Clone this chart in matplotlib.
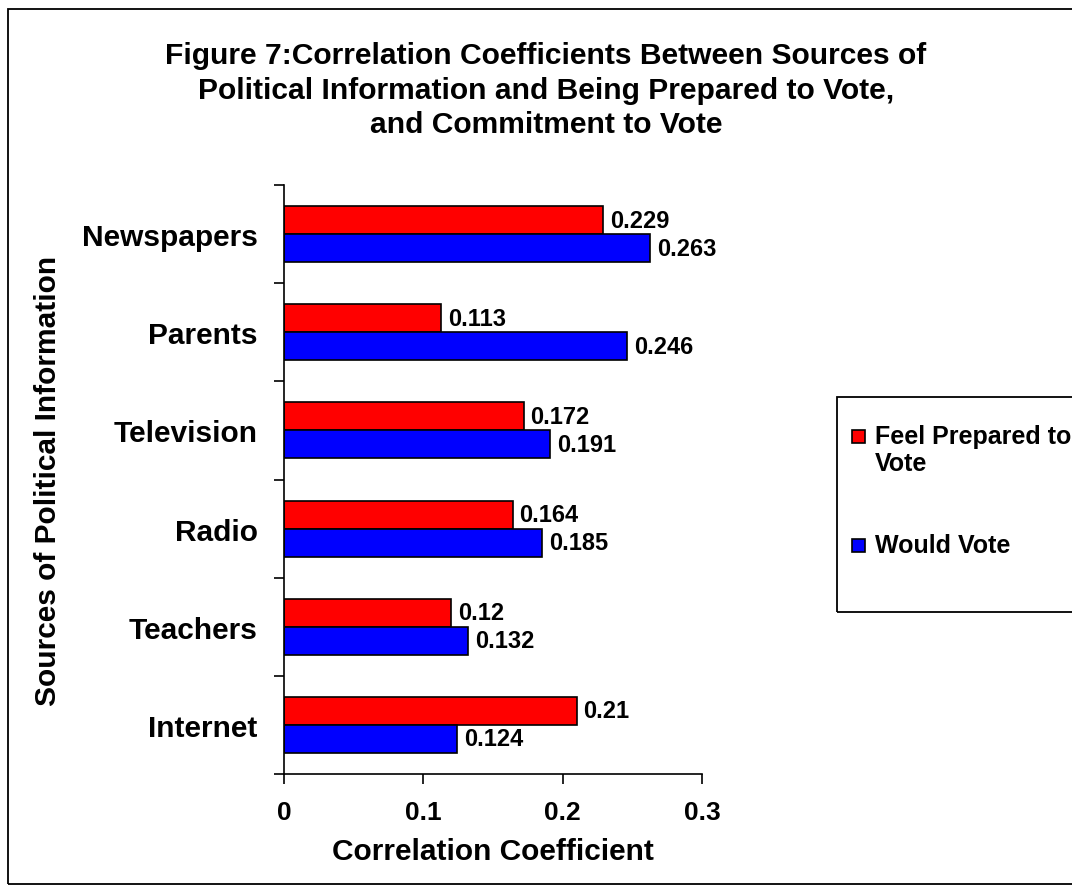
import matplotlib
matplotlib.use("Agg")
import matplotlib.pyplot as plt
from matplotlib.patches import Rectangle

# ---- data -------------------------------------------------------------
sources = ["Newspapers", "Parents", "Television", "Radio", "Teachers", "Internet"]
feel_prepared = [0.229, 0.113, 0.172, 0.164, 0.12, 0.21]
would_vote = [0.263, 0.246, 0.191, 0.185, 0.132, 0.124]
series_names = ["Feel Prepared to\nVote", "Would Vote"]
x_ticks = [0, 0.1, 0.2, 0.3]
x_tick_labels = ["0", "0.1", "0.2", "0.3"]

title = ("Figure 7:Correlation Coefficients Between Sources of\n"
         "Political Information and Being Prepared to Vote,\n"
         "and Commitment to Vote")
x_label = "Correlation Coefficient"
y_label = "Sources of Political Information"

# ---- style ------------------------------------------------------------
RED = "#FF0000"
BLUE = "#0000FF"
plt.rcParams["font.family"] = ["Liberation Sans", "DejaVu Sans"]
plt.rcParams["font.weight"] = "bold"

W, H = 1072, 895
fig = plt.figure(figsize=(W / 100, H / 100), dpi=100)


def fx(px):
    return px / W


def fy(py):
    return 1 - py / H


# plot area
ax_left, ax_right, ax_top, ax_bottom = 284, 702, 186, 775
ax = fig.add_axes([fx(ax_left), fy(ax_bottom),
                   (ax_right - ax_left) / W, (ax_bottom - ax_top) / H])

n = len(sources)
pos = list(range(n))
bar_h = 0.286
bars_red = ax.barh([p - bar_h / 2 for p in pos], feel_prepared, height=bar_h,
                   color=RED, edgecolor="black", linewidth=1.2, zorder=2)
bars_blue = ax.barh([p + bar_h / 2 for p in pos], would_vote, height=bar_h,
                    color=BLUE, edgecolor="black", linewidth=1.2, zorder=2)

for bars, vals in ((bars_red, feel_prepared), (bars_blue, would_vote)):
    ax.bar_label(bars, labels=[f"{v:g}" for v in vals], padding=5,
                 fontsize=17, fontweight="bold", color="black")

ax.set_xlim(0, 0.3)
ax.set_ylim(n - 0.5, -0.5)

# axes spines
for side in ("top", "right"):
    ax.spines[side].set_visible(False)
for side in ("left", "bottom"):
    ax.spines[side].set_linewidth(1.2)
    ax.spines[side].set_color("black")

# y axis: tick marks on category boundaries, labels at centres
ax.set_yticks([p - 0.5 for p in range(n + 1)])
ax.set_yticklabels([])
ax.set_yticks(pos, minor=True)
ax.set_yticklabels(sources, minor=True, fontsize=21.5, fontweight="bold")
ax.tick_params(axis="y", which="major", direction="out", length=7.5, width=1.2)
ax.tick_params(axis="y", which="minor", length=0, pad=19)

ax.set_xticks(x_ticks)
ax.set_xticklabels(x_tick_labels, fontsize=19, fontweight="bold")
ax.tick_params(axis="x", direction="out", length=7, width=1.2, pad=12)

ax.set_xlabel(x_label, fontsize=21.5, fontweight="bold", va="center")
ax.xaxis.set_label_coords(0.5, (ax_bottom - 852) / (ax_bottom - ax_top))
ax.set_ylabel(y_label, fontsize=21.5, fontweight="bold", va="center")
ax.yaxis.set_label_coords((48 - ax_left) / (ax_right - ax_left), 0.5)

# title
fig.text(fx(546), fy(42), title, ha="center", va="top", fontsize=21.6,
         fontweight="bold", linespacing=1.3)

# legend box (runs off the right edge)
fig.add_artist(Rectangle((fx(837), fy(613)), fx(1090) - fx(837), (613 - 398) / H,
                         transform=fig.transFigure, fill=False,
                         edgecolor="black", linewidth=1.3, clip_on=False))
legend_rows = [(RED, series_names[0], 437), (BLUE, series_names[1], 546)]
sq = 13
for color, name, yc in legend_rows:
    fig.add_artist(Rectangle((fx(852), fy(yc + sq / 2)), sq / W, sq / H,
                             transform=fig.transFigure, facecolor=color,
                             edgecolor="black", linewidth=1.2))
    fig.text(fx(875), fy(yc - 12), name, ha="left", va="top", fontsize=18,
             fontweight="bold", linespacing=1.15)

# outer chart border (open on the right)
fig.add_artist(Rectangle((fx(8), fy(885)), fx(1090) - fx(8), (885 - 10) / H,
                         transform=fig.transFigure, fill=False,
                         edgecolor="black", linewidth=1.3, clip_on=False))

fig.savefig("out.png", dpi=100)
